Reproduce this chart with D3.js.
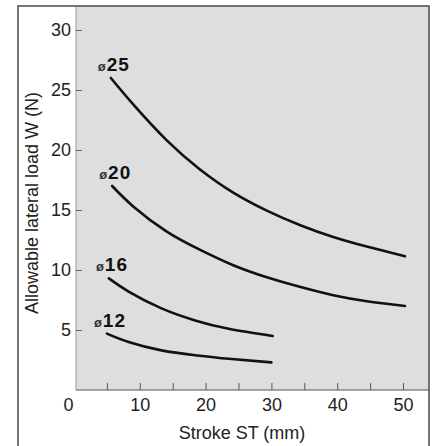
<!DOCTYPE html>
<html>
<head>
<meta charset="utf-8">
<script src="https://cdn.jsdelivr.net/npm/d3@7"></script>
<style>
  body { margin: 0; background: #fff; }
  text { font-family: "Liberation Sans", Arial, sans-serif; }
</style>
</head>
<body>
<svg id="chart"></svg>
<script>
// values
const bores = ['25', '20', '16', '12'];
const stroke25 = [5.6, 9.0, 14.1, 19.1, 24.2, 29.3, 34.3, 39.4, 44.5, 50.3];
const load25   = [26.0, 23.8, 20.8, 18.4, 16.45, 14.95, 13.75, 12.75, 11.95, 11.15];
const stroke20 = [5.8, 9.0, 14.1, 19.1, 24.2, 29.3, 34.3, 39.4, 44.5, 50.3];
const load20   = [17.0, 15.3, 13.2, 11.7, 10.4, 9.4, 8.6, 7.9, 7.4, 7.0];
const stroke16 = [5.3, 8.3, 13.3, 18.4, 23.5, 30.2];
const load16   = [9.3, 8.2, 6.8, 5.8, 5.1, 4.5];
const stroke12 = [5.0, 8.3, 13.3, 18.4, 23.5, 30.0];
const load12   = [4.7, 4.0, 3.3, 2.9, 2.6, 2.3];
const yTicks = [5, 10, 15, 20, 25, 30];
const xTicks = [0, 5, 10, 15, 20, 25, 30, 35, 40, 45, 50];
const xTickLabels = [0, 10, 20, 30, 40, 50];

class LateralLoadChart {

    constructor( config, data ) {
        this.config = {
            parent: config.parent,
            width: config.width || 435,
            height: config.height || 446,
            margin: config.margin || {top:6, right:5, bottom:56, left:76}
        }
        this.data = data;
        this.init();
    }

    init() {
        let self = this;

        self.svg = d3.select( self.config.parent )
            .attr('width', self.config.width)
            .attr('height', self.config.height);

        self.chart = self.svg.append('g')
            .attr('transform', `translate(0, ${self.config.margin.top})`);

        self.inner_height = self.config.height - self.config.margin.top - self.config.margin.bottom;

        self.xscale = d3.scaleLinear()
            .domain( [0, 54.1] )
            .range( [74, 430] );

        self.yscale = d3.scaleLinear()
            .domain( [0, 32] )
            .range( [self.inner_height, 0] );

        // grey plotting panel
        self.chart.append('rect')
            .attr('x', self.config.margin.left)
            .attr('y', 0)
            .attr('width', 429 - self.config.margin.left)
            .attr('height', self.inner_height)
            .attr('fill', '#dedede');

        self.chart.append('line')
            .attr('x1', self.config.margin.left).attr('x2', self.config.margin.left)
            .attr('y1', 0).attr('y2', self.inner_height)
            .attr('stroke', '#9a9a9a')
            .attr('stroke-width', 1);

        // outer frame
        self.svg.append('path')
            .attr('d', `M18,${self.config.height} V6 H429 V${self.config.height}`)
            .attr('fill', 'none')
            .attr('stroke', '#4a4a4a')
            .attr('stroke-width', 1.5);

        self.xaxis = d3.axisBottom( self.xscale )
            .tickValues( xTicks )
            .tickSize( -7 )
            .tickPadding( 8 )
            .tickFormat( d => xTickLabels.includes(d) ? d : '' );

        self.yaxis = d3.axisLeft( self.yscale )
            .tickValues( yTicks )
            .tickSize( -6 )
            .tickPadding( 5 );

        self.xaxis_group = self.chart.append('g')
            .attr('transform', `translate(0, ${self.inner_height})`);

        self.yaxis_group = self.chart.append('g')
            .attr('transform', `translate(${self.config.margin.left}, 0)`);

        self.line = d3.line()
            .x( d => self.xscale(d.x) )
            .y( d => self.yscale(d.y) )
            .curve( d3.curveNatural );
    }

    render() {
        let self = this;

        self.xaxis_group.call( self.xaxis );
        self.xaxis_group.select('.domain')
            .attr('stroke', '#555')
            .attr('stroke-width', 1.2)
            .attr('d', `M${self.config.margin.left},0H429`);
        self.xaxis_group.selectAll('.tick line')
            .attr('stroke', '#555')
            .attr('stroke-width', 1)
            .filter( d => d === 0 ).remove();
        self.xaxis_group.selectAll('.tick text')
            .attr('font-size', '18px')
            .attr('fill', '#222')
            .attr('font-family', '"Liberation Sans", Arial, sans-serif')
            .attr('dx', d => d === 0 ? -6 : 0);

        self.yaxis_group.call( self.yaxis );
        self.yaxis_group.select('.domain').remove();
        self.yaxis_group.selectAll('.tick line')
            .attr('stroke', '#666');
        self.yaxis_group.selectAll('.tick text')
            .attr('font-size', '18px')
            .attr('fill', '#222')
            .attr('font-family', '"Liberation Sans", Arial, sans-serif');

        self.chart.selectAll('path.curve')
            .data( self.data )
            .join('path')
            .attr('class', 'curve')
            .attr('d', d => self.line( d.values ))
            .attr('fill', 'none')
            .attr('stroke', '#111')
            .attr('stroke-width', 2.6)
            .attr('stroke-linecap', 'round');

        const labels = self.chart.selectAll('text.bore')
            .data( self.data )
            .join('text')
            .attr('class', 'bore')
            .attr('x', d => self.xscale( d.values[0].x ) - 13)
            .attr('y', d => self.yscale( d.values[0].y ) - 7)
            .attr('fill', '#111');
        labels.append('tspan')
            .attr('font-size', '13px')
            .attr('font-weight', 'bold')
            .attr('fill', '#333')
            .text('ø');
        labels.append('tspan')
            .attr('font-size', '19px')
            .attr('font-weight', 'bold')
            .attr('letter-spacing', '1px')
            .attr('dx', 1)
            .text( d => d.bore );

        self.svg.append('text')
            .attr('x', 242)
            .attr('y', 439)
            .attr('text-anchor', 'middle')
            .attr('font-size', '18px')
            .attr('fill', '#222')
            .text('Stroke ST (mm)');

        self.svg.append('text')
            .attr('transform', 'translate(38, 203) rotate(-90)')
            .attr('text-anchor', 'middle')
            .attr('font-size', '18px')
            .attr('fill', '#222')
            .text('Allowable lateral load  W (N)');
    }
}

const strokes = [stroke25, stroke20, stroke16, stroke12];
const loads = [load25, load20, load16, load12];
const series = bores.map( (b, i) => ({
    bore: b,
    values: strokes[i].map( (s, j) => ({x: s, y: loads[i][j]}) )
}));

const chart = new LateralLoadChart( {parent: '#chart'}, series );
chart.render();
</script>
</body>
</html>
